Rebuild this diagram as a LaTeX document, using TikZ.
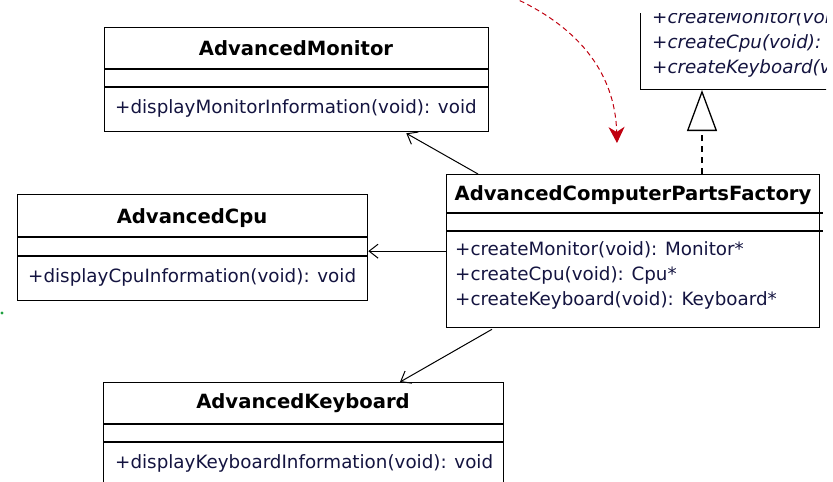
\documentclass[tikz,border=0pt]{standalone}
\usepackage{fontspec}
\setmainfont{DejaVu Sans}
\usetikzlibrary{arrows.meta,calc}
\definecolor{methc}{HTML}{141440}
\definecolor{depred}{HTML}{C00010}
\definecolor{dotgreen}{HTML}{20A040}
\begin{document}
\begin{tikzpicture}[x=1pt,y=-1pt,
  cls/.style={draw=black, line width=1.3pt, fill=white, rectangle, inner sep=0pt, anchor=north west},
  sepline/.style={line width=1.3pt},
  ttl/.style={font=\fontsize{19.6}{22}\selectfont\bfseries, text=black, inner sep=0pt},
  meth/.style={font=\fontsize{18.3}{22}\selectfont, text=methc, inner sep=0pt, anchor=west, text height=14pt, text depth=4pt},
  imeth/.style={meth, font=\fontsize{18.3}{22}\selectfont\itshape},
  assoc/.style={line width=1pt, -{Straight Barb[length=9pt,width=14pt,line width=1pt]}},
  real/.style={line width=1.2pt, dash pattern=on 6pt off 5pt, -{Triangle[length=41pt,width=30pt,fill=white,line width=1.3pt]}},
  dep/.style={line width=1pt, depred, dash pattern=on 5pt off 3.5pt, -{Stealth[length=16pt,width=16pt,inset=5pt]}}
]
\useasboundingbox (0,0) rectangle (833,482);
\fill[white] (0,0) rectangle (833,482);

% abstract factory (partly outside the view)
\begin{scope}
\clip (0,13) rectangle (826,482);
\node[cls, anchor=south west, minimum width=300pt, minimum height=150pt] (abs) at (640,90) {};
\node[imeth] (absm1) at (652,18) {+createMonitor(void): Monitor*};
\node[imeth] (absm2) at (652,43) {+createCpu(void): Cpu*};
\node[imeth] (absm3) at (652,68) {+createKeyboard(void): Keyboard*};
\end{scope}

% AdvancedMonitor
\node[cls, minimum width=384pt, minimum height=104pt] (mon) at (104,27) {};
\draw[sepline] ($(mon.north west)+(0,42)$) -- ($(mon.north east)+(0,42)$);
\draw[sepline] ($(mon.north west)+(0,60)$) -- ($(mon.north east)+(0,60)$);
\node[ttl] (monT) at (296,48) {AdvancedMonitor};
\node[meth] (monM) at (115,108) {+displayMonitorInformation(void): void};

% AdvancedCpu
\node[cls, minimum width=350pt, minimum height=106pt] (cpu) at (17,194) {};
\draw[sepline] ($(cpu.north west)+(0,43)$) -- ($(cpu.north east)+(0,43)$);
\draw[sepline] ($(cpu.north west)+(0,62)$) -- ($(cpu.north east)+(0,62)$);
\node[ttl] (cpuT) at (192,218) {AdvancedCpu};
\node[meth] (cpuM) at (28,277) {+displayCpuInformation(void): void};

% AdvancedComputerPartsFactory
\node[cls, minimum width=373pt, minimum height=153pt] (fac) at (446,174) {};
\draw[sepline] ($(fac.north west)+(0,39)$) -- ($(fac.north east)+(3,39)$);
\draw[sepline] ($(fac.north west)+(0,57)$) -- ($(fac.north east)+(3,57)$);
\node[ttl] (facT) at (633,195) {AdvancedComputerPartsFactory};
\node[meth] (facM1) at (455,250) {+createMonitor(void): Monitor*};
\node[meth] (facM2) at (455,275) {+createCpu(void): Cpu*};
\node[meth] (facM3) at (455,300) {+createKeyboard(void): Keyboard*};

% AdvancedKeyboard
\node[cls, minimum width=400pt, minimum height=130pt] (kb) at (103,382) {};
\draw[sepline] ($(kb.north west)+(0,42)$) -- ($(kb.north east)+(0,42)$);
\draw[sepline] ($(kb.north west)+(0,60)$) -- ($(kb.north east)+(0,60)$);
\node[ttl] (kbT) at (303,403) {AdvancedKeyboard};
\node[meth] (kbM) at (115,463) {+displayKeyboardInformation(void): void};

% connectors
\draw[assoc] ($(fac.north west)+(32,0)$) -- ($(mon.south east)+(-83,1)$);
\draw[assoc] (fac.west) -- (fac.west -| cpu.east);
\draw[assoc] ($(fac.south west)+(46,1)$) -- ($(kb.north west)+(297,0)$);
\draw[real] ($(fac.north west)+(256,0)$) -- ($(abs.south west)+(62,0)$);

\coordinate (rs) at (512,-3);
\coordinate (rt) at (617,143);
\draw[dep] (rs) .. controls (575,25) and (615,70) .. (rt);

\fill[dotgreen] (2,313) circle (1.6);
\end{tikzpicture}
\end{document}
